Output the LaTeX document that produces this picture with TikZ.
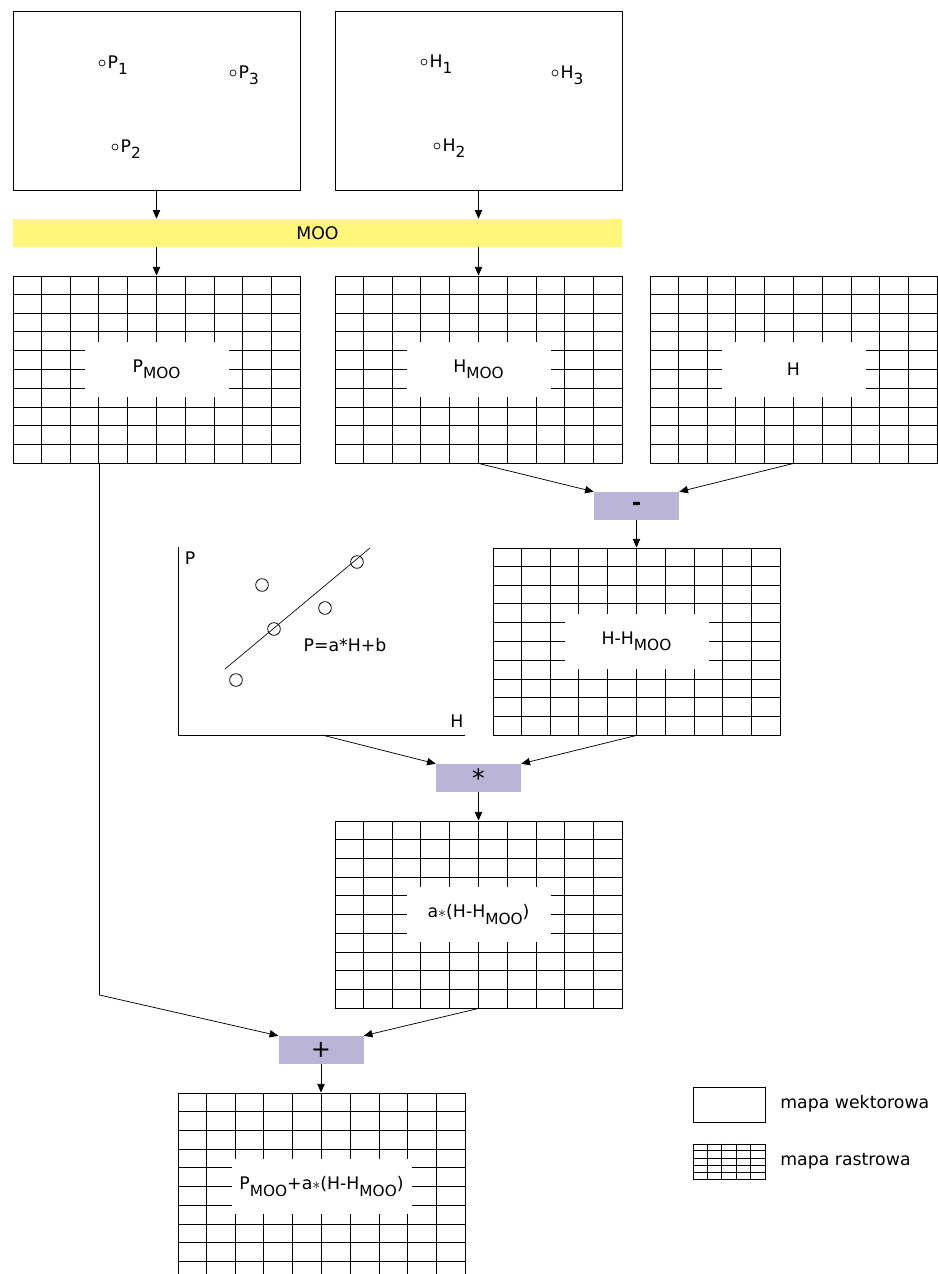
\documentclass[tikz,border=0pt]{standalone}
\usepackage{fontspec}
\setmainfont{DejaVu Sans}
\usetikzlibrary{arrows.meta,calc}
\definecolor{mooyellow}{RGB}{255,246,122}
\definecolor{oppurple}{RGB}{186,181,214}
\newcommand{\lsub}[1]{\raisebox{-0.36em}{\fontsize{11.5}{13}\selectfont #1}}
\newcommand{\drawgrid}[3]{%
  \pgfmathtruncatemacro{\cmax}{#2-1}%
  \pgfmathtruncatemacro{\rmax}{#3-1}%
  \foreach \k in {1,...,\cmax}{\draw[gridln] ($(#1.north west)!\k/#2!(#1.north east)$) -- ($(#1.south west)!\k/#2!(#1.south east)$);}%
  \foreach \k in {1,...,\rmax}{\draw[gridln] ($(#1.north west)!\k/#3!(#1.south west)$) -- ($(#1.north east)!\k/#3!(#1.south east)$);}%
}
\begin{document}
\begin{tikzpicture}[x=0.75pt,y=-0.75pt,
  font=\fontsize{13}{15}\selectfont,
  vecmap/.style={draw, line width=0.6pt, minimum width=215.25pt, minimum height=134.25pt, inner sep=0pt},
  raster/.style={draw, line width=0.65pt, minimum width=215.25pt, minimum height=140.25pt, inner sep=0pt},
  gridln/.style={line width=0.65pt},
  rlabel/.style={fill=white, minimum width=108pt, minimum height=41.25pt, inner sep=0pt},
  opbox/.style={fill=oppurple, minimum width=63.75pt, minimum height=21pt, inner sep=0pt},
  arr/.style={-{Triangle[length=6.5pt,width=5.5pt]}, line width=0.55pt},
  dot/.style={circle, draw, line width=0.5pt, minimum size=4.5pt, inner sep=0pt},
  ring/.style={circle, draw, line width=0.6pt, minimum size=9.5pt, inner sep=0pt},
  ptlab/.style={anchor=base west, inner sep=0pt},
]
\useasboundingbox (0,0) rectangle (938,1274);
\clip (0,0) rectangle (938,1274);

% vector maps
\node[vecmap] (vl) at (156.5,100.5) {};
\node[vecmap] (vr) at (478.5,100.5) {};
\node[dot] (p1) at (102,63) {};
\node[ptlab] at ([xshift=1.5pt,yshift=-3.75pt]p1.east) {P\lsub{1}};
\node[dot] (p3) at (233,73) {};
\node[ptlab] at ([xshift=1.5pt,yshift=-3.75pt]p3.east) {P\lsub{3}};
\node[dot] (p2) at (115,147) {};
\node[ptlab] at ([xshift=1.5pt,yshift=-3.75pt]p2.east) {P\lsub{2}};
\node[dot] (h1) at (424,62) {};
\node[ptlab] at ([xshift=1.5pt,yshift=-3.75pt]h1.east) {H\lsub{1}};
\node[dot] (h3) at (555,73) {};
\node[ptlab] at ([xshift=1.5pt,yshift=-3.75pt]h3.east) {H\lsub{3}};
\node[dot] (h2) at (437,146) {};
\node[ptlab] at ([xshift=1.5pt,yshift=-3.75pt]h2.east) {H\lsub{2}};

% MOO bar
\node[fill=mooyellow, minimum width=456.75pt, minimum height=21pt, inner sep=0pt] (moo) at (317.5,233) {MOO};

% rasters
\node[raster] (pmoo) at (156.5,369.5) {};
\drawgrid{pmoo}{10}{10}
\node[rlabel] at (pmoo.center) {P\lsub{MOO}};

\node[raster] (hmoo) at (478.5,369.5) {};
\drawgrid{hmoo}{10}{10}
\node[rlabel] at (hmoo.center) {H\lsub{MOO}};

\node[raster] (hh) at (793.5,369.5) {};
\drawgrid{hh}{10}{10}
\node[rlabel] at (hh.center) {H};

\node[raster] (diff) at (636.5,641.5) {};
\drawgrid{diff}{10}{10}
\node[rlabel] at (diff.center) {H-H\lsub{MOO}};

\node[raster] (ah) at (478.5,914.5) {};
\drawgrid{ah}{10}{10}
\node[rlabel] at (ah.center) {a$\ast$(H-H\lsub{MOO})};

\node[raster] (fin) at (321.5,1186.5) {};
\drawgrid{fin}{10}{10}
\node[rlabel, minimum width=135pt] at (fin.center) {P\lsub{MOO}+a$\ast$(H-H\lsub{MOO})};

% operation boxes
\node[opbox] (minus) at (636.5,506) {\fontsize{17}{17}\selectfont\bfseries -};
\node[opbox] (star) at (478.5,778) {\raisebox{-0.35em}{\fontsize{19}{19}\selectfont *}};
\node[opbox] (plus) at (321,1050) {\fontsize{18}{18}\selectfont +};

% scatter plot
\draw[line width=0.6pt] (178,547) -- (178,735) -- (465,735);
\coordinate (plotfoot) at (322,735);
\node at (190,558) {P};
\node at (457,721) {H};
\draw[line width=0.5pt] (225,669) -- (370,548);
\node[ring] at (262,585) {};
\node[ring] at (274,629) {};
\node[ring] at (325,608) {};
\node[ring] at (357,562) {};
\node[ring] at (236,680) {};
\node at (345,645) {P=a*H+b};

% connectors
\draw[arr] (vl.south) -- (vl.south |- moo.north);
\draw[arr] (vr.south) -- (vr.south |- moo.north);
\draw[arr] (pmoo.north |- moo.south) -- (pmoo.north);
\draw[arr] (hmoo.north |- moo.south) -- (hmoo.north);
\draw[arr] (hmoo.south) -- (minus.north west);
\draw[arr] (hh.south) -- (minus.north east);
\draw[arr] (minus.south) -- (diff.north);
\draw[arr] (plotfoot) -- (star.north west);
\draw[arr] (diff.south) -- (star.north east);
\draw[arr] (star.south) -- (ah.north);
\coordinate (pm) at (99.5,463);
\coordinate (bend) at (99.5,995);
\draw[arr] (pm) -- (bend) -- (plus.north west);
\draw[arr] (ah.south) -- (plus.north east);
\draw[arr] (plus.south) -- (plus.south |- fin.north);

% legend
\node[draw, line width=0.6pt, minimum width=54pt, minimum height=26.25pt, inner sep=0pt] (legvec) at (729,1104.5) {};
\node[anchor=west, inner sep=0pt] at (780,1104) {mapa wektorowa};
\node[draw, line width=0.6pt, minimum width=54pt, minimum height=26.25pt, inner sep=0pt] (legras) at (729,1161.5) {};
\drawgrid{legras}{5}{5}
\node[anchor=west, inner sep=0pt] at (780,1161) {mapa rastrowa};
\end{tikzpicture}
\end{document}
